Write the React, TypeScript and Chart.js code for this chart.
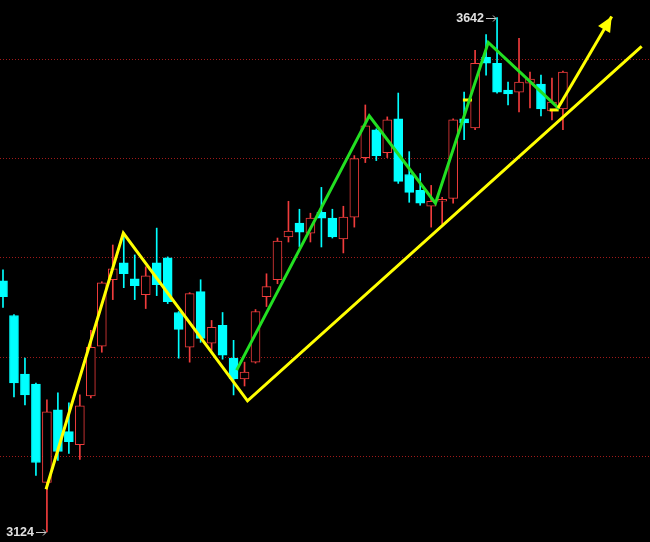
import { useEffect, useRef } from "react";
import { Chart, registerables } from "chart.js";

Chart.register(...registerables);

// Daily OHLC, oldest first
const OPEN = [
  3377, 3342, 3283, 3273, 3174, 3247, 3225, 3212, 3261, 3311,
  3378, 3395, 3379, 3363, 3395, 3400, 3345, 3310, 3366, 3314,
  3332, 3299, 3278, 3295, 3361, 3378, 3421, 3435, 3425, 3446,
  3440, 3419, 3441, 3501, 3529, 3506, 3540, 3484, 3468, 3452,
  3457, 3460, 3540, 3531, 3602, 3596, 3569, 3567, 3576, 3575,
  3548, 3550,
];
const HIGH = [
  3388, 3343, 3299, 3274, 3257, 3264, 3254, 3262, 3327, 3376,
  3413, 3425, 3403, 3391, 3430, 3401, 3346, 3365, 3378, 3337,
  3345, 3317, 3295, 3348, 3384, 3420, 3457, 3449, 3445, 3471,
  3449, 3452, 3503, 3554, 3530, 3542, 3566, 3507, 3485, 3473,
  3461, 3540, 3567, 3609, 3625, 3642, 3577, 3621, 3587, 3584,
  3581, 3588,
];
const LOW = [
  3350, 3260, 3252, 3181, 3124, 3196, 3203, 3197, 3259, 3305,
  3358, 3370, 3358, 3349, 3362, 3354, 3299, 3295, 3315, 3307,
  3298, 3262, 3271, 3294, 3351, 3374, 3416, 3411, 3416, 3411,
  3420, 3405, 3431, 3496, 3498, 3501, 3475, 3456, 3453, 3431,
  3434, 3455, 3519, 3529, 3584, 3566, 3554, 3547, 3551, 3543,
  3539, 3529,
];
const CLOSE = [
  3361, 3274, 3262, 3194, 3245, 3205, 3215, 3251, 3310, 3375,
  3389, 3384, 3372, 3382, 3373, 3356, 3328, 3364, 3319, 3330,
  3302, 3278, 3285, 3346, 3371, 3417, 3427, 3426, 3440, 3440,
  3421, 3441, 3500, 3533, 3503, 3539, 3477, 3466, 3455, 3457,
  3459, 3539, 3536, 3596, 3596, 3567, 3565, 3577, 3580, 3550,
  3557, 3587,
];

// Horizontal reference levels
const GRID_LEVELS = [3200, 3300, 3400, 3500, 3600];

// Visible window
const PRICE_MIN = 3113.9;
const PRICE_MAX = 3659.7;
const INDEX_MIN = -0.273;
const INDEX_MAX = 58.93;

// Wave drawings (bar index, price)
const YELLOW_WAVE_X = [3.92, 10.96, 22.27, 58.17];
const YELLOW_WAVE_Y = [3167, 3425, 3256, 3613];
const GREEN_WAVE_X = [21.28, 33.36, 39.39, 44.2, 50.66];
const GREEN_WAVE_Y = [3287, 3543, 3455, 3617, 3550];
const ARROW_X = [50.55, 55.44];
const ARROW_Y = [3551, 3643];
const MARK_X = [42.3, 50.2];
const MARK_Y = [3559, 3549];

// Bars whose extreme is annotated
const LOW_MARK_INDEX = 4;
const HIGH_MARK_INDEX = 45;

const RED = "#f03c3c";
const CYAN = "#00ffff";
const YELLOW = "#ffff00";
const GREEN = "#22e022";

const waveMarks = {
  id: "waveMarks",
  afterDatasetsDraw(chart: any) {
    const ctx = chart.ctx as CanvasRenderingContext2D;
    const xs = chart.scales.x;
    const ys = chart.scales.y;

    // arrowhead on the projected leg
    const ax0 = xs.getPixelForValue(ARROW_X[0]);
    const ay0 = ys.getPixelForValue(ARROW_Y[0]);
    const ax1 = xs.getPixelForValue(ARROW_X[1]);
    const ay1 = ys.getPixelForValue(ARROW_Y[1]);
    const ang = Math.atan2(ay1 - ay0, ax1 - ax0);
    const len = 15;
    const half = 7;
    const c = Math.cos(ang);
    const s = Math.sin(ang);
    ctx.save();
    ctx.fillStyle = YELLOW;
    ctx.beginPath();
    ctx.moveTo(ax1, ay1);
    ctx.lineTo(ax1 - len * c + half * s, ay1 - len * s - half * c);
    ctx.lineTo(ax1 - len * c - half * s, ay1 - len * s + half * c);
    ctx.closePath();
    ctx.fill();

    // extreme price labels with pointer arrows
    const marks = [
      { i: LOW_MARK_INDEX, v: LOW[LOW_MARK_INDEX] },
      { i: HIGH_MARK_INDEX, v: HIGH[HIGH_MARK_INDEX] },
    ];
    ctx.font = 'bold 12.5px "Liberation Sans", Arial, sans-serif';
    ctx.textAlign = "right";
    ctx.textBaseline = "middle";
    for (const m of marks) {
      const px = Math.round(xs.getPixelForValue(m.i));
      const py = Math.round(ys.getPixelForValue(m.v));
      ctx.fillStyle = "#e0e0e0";
      ctx.fillText(String(m.v), px - 13, py + 1);
      ctx.strokeStyle = "#c8c8c8";
      ctx.lineWidth = 1;
      ctx.beginPath();
      ctx.moveTo(px - 11, py + 0.5);
      ctx.lineTo(px - 1, py + 0.5);
      ctx.moveTo(px - 4, py - 2.5);
      ctx.lineTo(px - 1, py + 0.5);
      ctx.lineTo(px - 4, py + 3.5);
      ctx.stroke();
    }
    ctx.restore();
  },
};

export default function App() {
  const ref = useRef<HTMLCanvasElement>(null);

  useEffect(() => {
    if (!ref.current) return;
    const idx = OPEN.map((_, i) => i);
    const up = idx.map((i) => CLOSE[i] >= OPEN[i]);

    const chart = new Chart(ref.current, {
      type: "bar",
      data: {
        datasets: [
          {
            type: "line",
            label: "projection",
            data: ARROW_X.map((x, i) => ({ x, y: ARROW_Y[i] })),
            borderColor: YELLOW,
            borderWidth: 3,
            pointRadius: 0,
            order: 0,
          } as any,
          {
            type: "line",
            label: "major wave",
            data: YELLOW_WAVE_X.map((x, i) => ({ x, y: YELLOW_WAVE_Y[i] })),
            borderColor: YELLOW,
            borderWidth: 3,
            pointRadius: 0,
            order: 0,
          } as any,
          {
            type: "line",
            label: "minor wave",
            data: GREEN_WAVE_X.map((x, i) => ({ x, y: GREEN_WAVE_Y[i] })),
            borderColor: GREEN,
            borderWidth: 3,
            pointRadius: 0,
            order: 0,
          } as any,
          {
            type: "line",
            label: "marks",
            data: MARK_X.map((x, i) => ({ x, y: MARK_Y[i] })),
            showLine: false,
            borderColor: YELLOW,
            pointStyle: "line",
            pointRadius: 4.5,
            pointBorderWidth: 3,
            order: 0,
          } as any,
          {
            type: "bar",
            label: "body",
            data: idx.map((i) => ({ x: i, y: [OPEN[i], CLOSE[i]] })),
            backgroundColor: up.map((u) => (u ? "#000000" : CYAN)),
            borderColor: up.map((u) => (u ? RED : CYAN)),
            borderWidth: 1,
            borderSkipped: false,
            barThickness: 9,
            grouped: false,
            order: 1,
          } as any,
          {
            type: "bar",
            label: "wick",
            data: idx.map((i) => ({ x: i, y: [LOW[i], HIGH[i]] })),
            backgroundColor: up.map((u) => (u ? RED : CYAN)),
            borderWidth: 0,
            barThickness: 1,
            grouped: false,
            order: 2,
          } as any,
        ],
      },
      options: {
        responsive: false,
        animation: false,
        events: [],
        layout: { padding: 0, autoPadding: false },
        plugins: { legend: { display: false }, tooltip: { enabled: false } },
        scales: {
          x: {
            type: "linear",
            min: INDEX_MIN,
            max: INDEX_MAX,
            offset: false,
            display: false,
          },
          y: {
            type: "linear",
            min: PRICE_MIN,
            max: PRICE_MAX,
            display: true,
            ticks: { display: false },
            grid: { color: "#a01a1a", lineWidth: 1, drawTicks: false },
            border: { display: false, dash: [1, 2] },
            afterBuildTicks: (scale: any) => {
              scale.ticks = GRID_LEVELS.map((v) => ({ value: v }));
            },
          },
        },
      } as any,
      plugins: [waveMarks],
    });
    return () => chart.destroy();
  }, []);

  return (
    <div
      style={{
        position: "fixed",
        left: 0,
        top: 0,
        width: 650,
        height: 542,
        background: "#000",
      }}
    >
      <canvas ref={ref} width={650} height={542} style={{ display: "block" }} />
    </div>
  );
}
